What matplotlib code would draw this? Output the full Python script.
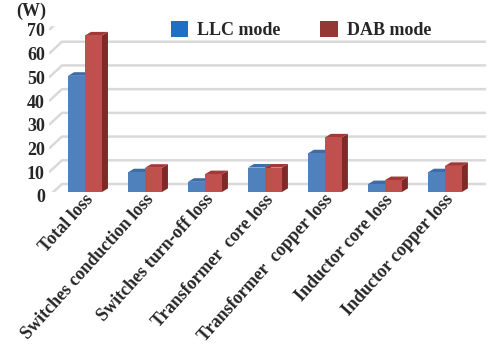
import matplotlib
matplotlib.use("Agg")
import matplotlib.pyplot as plt
import numpy as np
from matplotlib.patches import Polygon, Patch

categories = ["Total loss", "Switches conduction loss", "Switches turn-off loss",
              "Transformer  core loss", "Transformer  copper loss",
              "Inductor core loss", "Inductor copper loss"]
llc = [49, 8.3, 4.3, 10.3, 16.3, 3.3, 8.3]
dab = [66, 10.2, 7.5, 10.3, 23, 5, 11]
yticks = [0, 10, 20, 30, 40, 50, 60, 70]
series_names = ["LLC mode", "DAB mode"]

plt.rcParams['font.family'] = ['Liberation Serif', 'DejaVu Serif']

W, H, DPI = 489, 356, 100
fig = plt.figure(figsize=(W / DPI, H / DPI), dpi=DPI)
ax = fig.add_axes([49 / W, 1 - 192 / H, (486 - 49) / W, (192 - 26) / H])
ax.set_xlim(-0.6, 6.685)
ax.set_ylim(0, 70)
ax.set_axis_off()

front = {"LLC mode": "#4F81BD", "DAB mode": "#C0504D"}
side = {"LLC mode": "#2F5A8E", "DAB mode": "#7F2A28"}
top = {"LLC mode": "#3E6CA6", "DAB mode": "#A13A37"}
legend_col = {"LLC mode": "#1F6FC5", "DAB mode": "#953735"}

dx, dy = 6, 3.6      # depth of bars in pixels
wx, wy = 13, 12      # depth of floor/back wall in pixels
fy = -4              # front edge of gridlines below bar fronts (pixels)

x = np.arange(len(categories))
bw = 0.283

fig.canvas.draw()
T = ax.transData

# back-wall gridlines
xl, xr = ax.get_xlim()
for v in yticks:
    p0 = T.transform((xl, v)) + np.array([0, fy])
    p1 = p0 + np.array([wx, wy])
    p2 = np.array([T.transform((xr, v))[0], p1[1]])
    ax.plot([p0[0], p1[0], p2[0]], [p0[1], p1[1], p2[1]], transform=None,
            color="#D9D9D9", lw=1.8, solid_capstyle="butt", zorder=1)

def bar3d(xc, h, name):
    x0, x1 = xc - bw / 2, xc + bw / 2
    b = T.transform((x1, 0))
    c = T.transform((x1, h)); d = T.transform((x0, h))
    off = np.array([dx, dy])
    ax.add_patch(Polygon([b, c, c + off, b + off], closed=True, transform=None,
                         facecolor=side[name], edgecolor="none", zorder=3))
    ax.add_patch(Polygon([d, c, c + off, d + off], closed=True, transform=None,
                         facecolor=top[name], edgecolor="none", zorder=3))

for i in range(len(categories)):
    bar3d(x[i] - bw / 2, llc[i], "LLC mode")
ax.bar(x - bw / 2, llc, bw, color=front["LLC mode"], zorder=4)
for i in range(len(categories)):
    bar3d(x[i] + bw / 2, dab[i], "DAB mode")
ax.bar(x + bw / 2, dab, bw, color=front["DAB mode"], zorder=5)

# y tick labels
for v in yticks:
    ax.annotate(str(v), xy=(xl, v), xytext=(-3, -4.3), textcoords="offset points",
                ha="right", va="center", fontsize=13, fontweight="bold",
                color="#262626", annotation_clip=False)
fig.text(31 / W, 1 - 11 / H, "(W)", ha="center", va="center", fontsize=13,
         fontweight="bold", color="#262626")

# x labels
for i, lab in enumerate(categories):
    ax.annotate(lab, xy=(x[i], 0), xytext=(-0.5, 0.5), textcoords="offset points",
                ha="right", va="top", rotation=48, rotation_mode="anchor",
                fontsize=13, fontweight="bold", color="#262626",
                annotation_clip=False)

# legend
handles = [Patch(facecolor=legend_col[n], edgecolor="none") for n in series_names]
leg = fig.legend(handles, series_names, loc="center", bbox_to_anchor=(301 / W, 1 - 30 / H),
                 ncol=2, frameon=False, prop={"weight": "bold", "size": 13},
                 handlelength=0.95, handleheight=0.95, handletextpad=0.5, columnspacing=2.2)
for t in leg.get_texts():
    t.set_color("#262626")

fig.savefig("out.png", dpi=DPI)
